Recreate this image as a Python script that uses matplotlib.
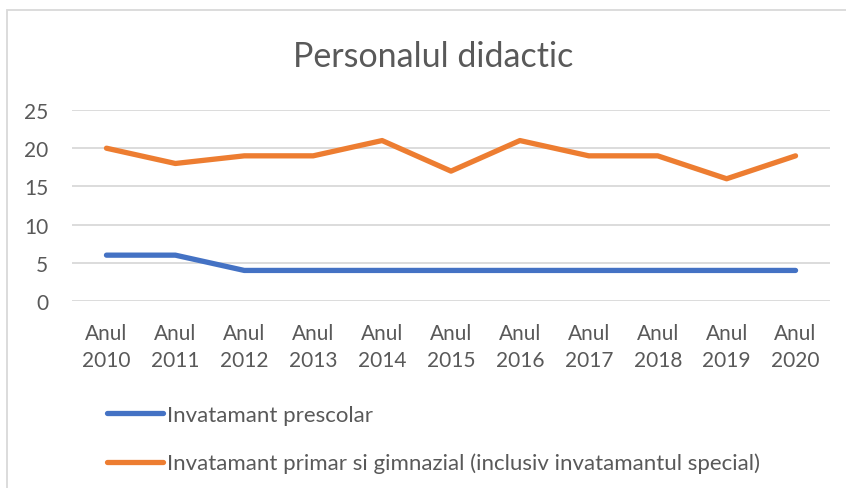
import matplotlib
matplotlib.use("Agg")
import matplotlib.pyplot as plt
from matplotlib.patches import Rectangle

plt.rcParams['font.family'] = ['Lato', 'DejaVu Sans']

years = ["Anul\n2010", "Anul\n2011", "Anul\n2012", "Anul\n2013", "Anul\n2014", "Anul\n2015",
         "Anul\n2016", "Anul\n2017", "Anul\n2018", "Anul\n2019", "Anul\n2020"]
prescolar = [6, 6, 4, 4, 4, 4, 4, 4, 4, 4, 4]
primar = [20, 18, 19, 19, 21, 17, 21, 19, 19, 16, 19]
labels = ["Invatamant prescolar",
          "Invatamant primar si gimnazial (inclusiv invatamantul special)"]

txt = '#595959'
grid = '#D9D9D9'

fig = plt.figure(figsize=(8.46, 4.89), dpi=100)
fig.patches.append(Rectangle((7/846, -0.1), 1.2, 1 - 11/489 + 0.1, transform=fig.transFigure,
                             fill=False, edgecolor=grid, linewidth=1.3))

ax = fig.add_axes([72/846, 1 - 302/489, 758/846, 191/489])
x = range(len(years))
l1, = ax.plot(x, prescolar, color='#4472C4', linewidth=3.8, solid_capstyle='round', label=labels[0])
l2, = ax.plot(x, primar, color='#ED7D31', linewidth=3.8, solid_capstyle='round', label=labels[1])

ax.set_xlim(-0.5, len(years) - 0.5)
ax.set_ylim(0, 25)
ax.set_yticks([0, 5, 10, 15, 20, 25])
ax.set_xticks(list(x))
ax.set_xticklabels(years, linespacing=1.45)
ax.yaxis.grid(True, color=grid, linewidth=1.3)
ax.set_axisbelow(True)
for s in ax.spines.values():
    s.set_visible(False)
ax.tick_params(length=0, labelsize=15, colors=txt, pad=16)
ax.tick_params(axis='y', pad=17)

fig.text(433/846, 1 - 57/489, "Personalul didactic", ha='center', va='center', fontsize=24.5, color=txt)

fig.legend(handles=[l1, l2], loc='upper left', bbox_to_anchor=(107/846, 1 - 406/489),
           frameon=False, fontsize=16, labelcolor=txt, handlelength=2.5, handletextpad=0.2,
           labelspacing=1.25, borderpad=0, borderaxespad=0)

fig.savefig("out.png", dpi=100)
